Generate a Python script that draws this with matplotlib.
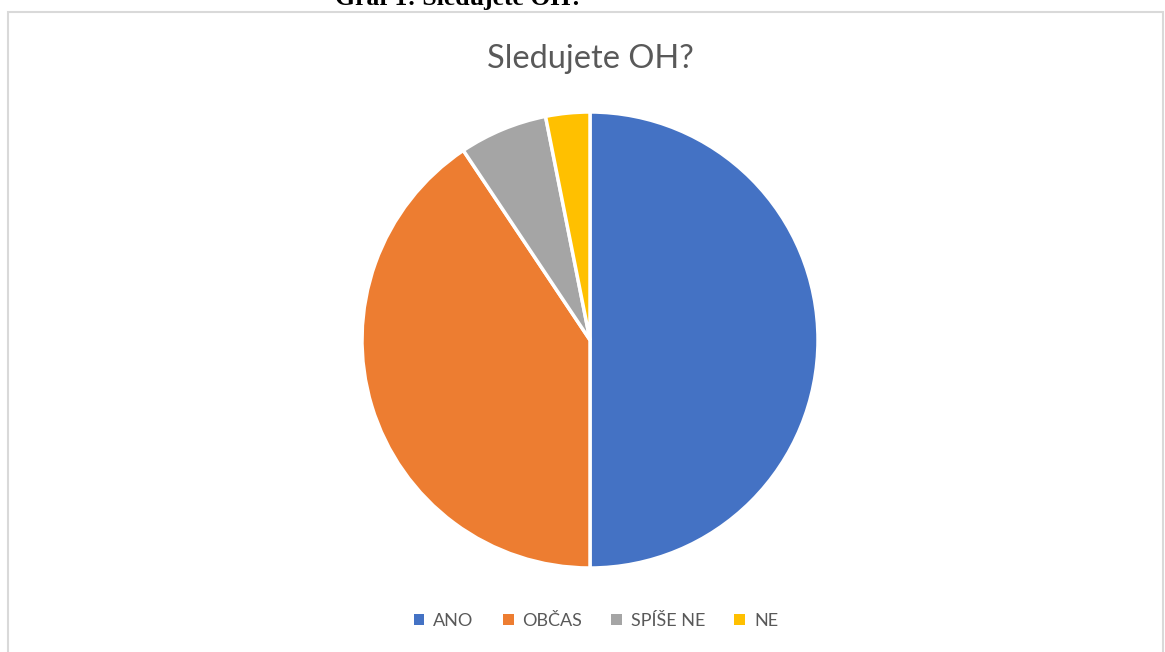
import matplotlib
matplotlib.use('Agg')
import matplotlib.pyplot as plt
from matplotlib.patches import Rectangle

labels = ['ANO', 'OBČAS', 'SPÍŠE NE', 'NE']
counts = [16, 13, 2, 1]
colors = ['#4472C4', '#ED7D31', '#A5A5A5', '#FFC000']

W, H = 1165, 652
fig = plt.figure(figsize=(W / 100, H / 100), dpi=100)

# ramecek grafu
fig.add_artist(Rectangle((8 / W, -0.01), 1155 / W, 1 - 12 / H + 0.01,
                         transform=fig.transFigure, fill=False,
                         edgecolor='#D9D9D9', linewidth=1.5))

# popisek nad grafem (oriznuty)
fig.text(459 / W, 1 - 5 / H, 'Graf 1: Sledujete OH?', ha='center', va='baseline',
         fontsize=18.5, fontweight='bold', family='Liberation Serif', color='black')

# koláč
cx, cy, r = 590, 340, 228
ax = fig.add_axes([(cx - r) / W, (H - cy - r) / H, 2 * r / W, 2 * r / H])
ax.pie(counts, colors=colors, startangle=90, counterclock=False, radius=1,
       wedgeprops=dict(edgecolor='white', linewidth=2.5))
ax.set_xlim(-1, 1)
ax.set_ylim(-1, 1)
ax.axis('off')

fig.text(cx / W, 1 - 59 / H, 'Sledujete OH?', ha='center', va='center',
         fontsize=23.5, family='Lato', color='#595959')

handles = [Rectangle((0, 0), 1, 1, facecolor=c) for c in colors]
fig.legend(handles, labels, loc='center', bbox_to_anchor=(596 / W, 1 - 621 / H),
           ncol=4, frameon=False, handlelength=0.6, handleheight=0.6,
           handletextpad=0.5, columnspacing=1.6,
           prop={'family': 'Lato', 'size': 13}, labelcolor='#595959')

fig.savefig('out.png', dpi=100)
